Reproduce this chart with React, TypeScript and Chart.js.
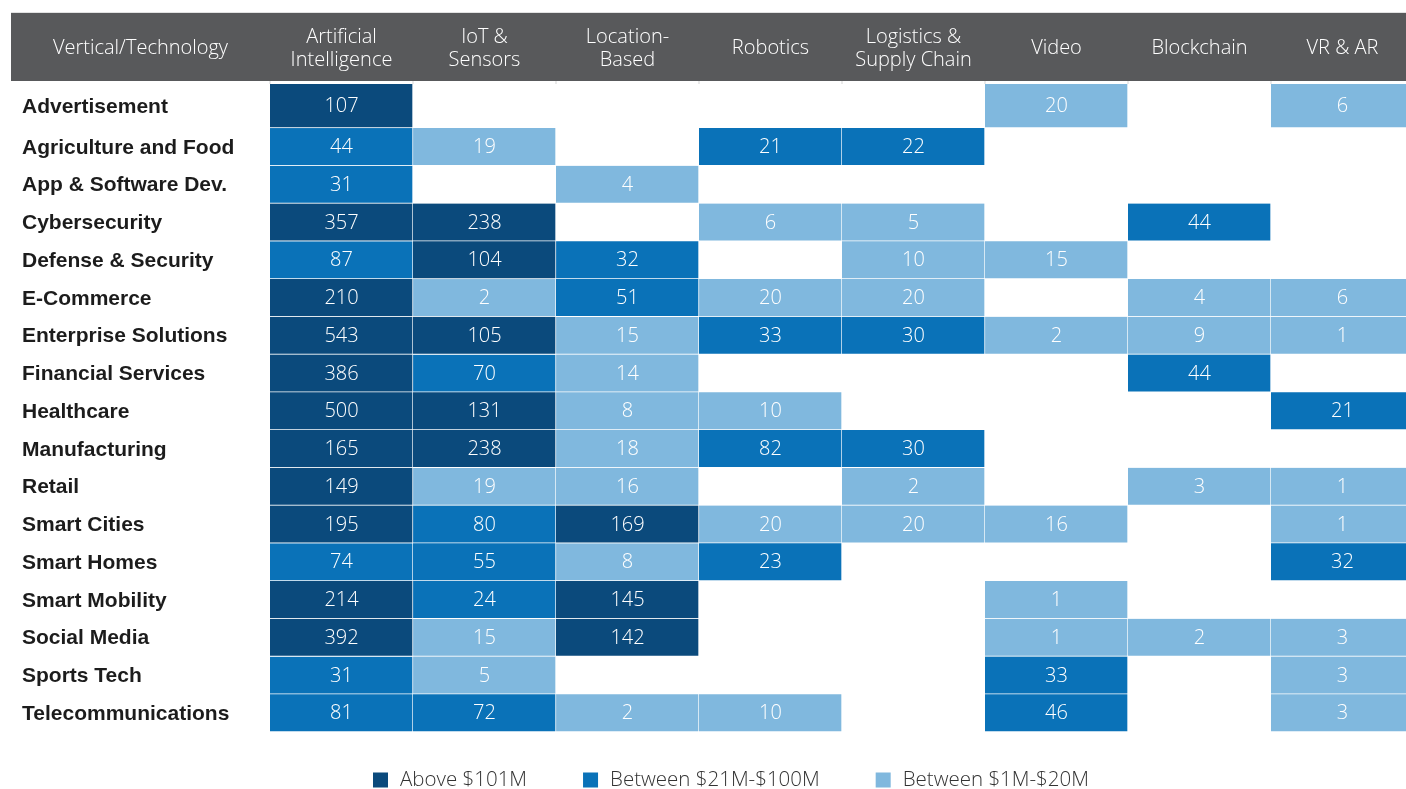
import React, { useEffect, useRef } from "react";
import { Chart, registerables } from "chart.js";

Chart.register(...registerables);

const CORNER_LABEL = "Vertical/Technology";
const COLUMN_LABELS: string[][] = [
  ["Artificial", "Intelligence"],
  ["IoT &", "Sensors"],
  ["Location-", "Based"],
  ["Robotics"],
  ["Logistics &", "Supply Chain"],
  ["Video"],
  ["Blockchain"],
  ["VR & AR"],
];
const ROW_LABELS: string[] = [
  "Advertisement",
  "Agriculture and Food",
  "App & Software Dev.",
  "Cybersecurity",
  "Defense & Security",
  "E-Commerce",
  "Enterprise Solutions",
  "Financial Services",
  "Healthcare",
  "Manufacturing",
  "Retail",
  "Smart Cities",
  "Smart Homes",
  "Smart Mobility",
  "Social Media",
  "Sports Tech",
  "Telecommunications",
];
const VALUES: (number | null)[][] = [
  [107, null, null, null, null, 20, null, 6],
  [44, 19, null, 21, 22, null, null, null],
  [31, null, 4, null, null, null, null, null],
  [357, 238, null, 6, 5, null, 44, null],
  [87, 104, 32, null, 10, 15, null, null],
  [210, 2, 51, 20, 20, null, 4, 6],
  [543, 105, 15, 33, 30, 2, 9, 1],
  [386, 70, 14, null, null, null, 44, null],
  [500, 131, 8, 10, null, null, null, 21],
  [165, 238, 18, 82, 30, null, null, null],
  [149, 19, 16, null, 2, null, 3, 1],
  [195, 80, 169, 20, 20, 16, null, 1],
  [74, 55, 8, 23, null, null, null, 32],
  [214, 24, 145, null, null, 1, null, null],
  [392, 15, 142, null, null, 1, 2, 3],
  [31, 5, null, null, null, 33, null, 3],
  [81, 72, 2, 10, null, 46, null, 3],
];
// funding tier of each cell: A = above $101M, B = $21M-$100M, C = $1M-$20M
const TIERS: (string | null)[][] = [
  ["A", null, null, null, null, "C", null, "C"],
  ["B", "C", null, "B", "B", null, null, null],
  ["B", null, "C", null, null, null, null, null],
  ["A", "A", null, "C", "C", null, "B", null],
  ["B", "A", "B", null, "C", "C", null, null],
  ["A", "C", "B", "C", "C", null, "C", "C"],
  ["A", "A", "C", "B", "B", "C", "C", "C"],
  ["A", "B", "C", null, null, null, "B", null],
  ["A", "A", "C", "C", null, null, null, "B"],
  ["A", "A", "C", "B", "B", null, null, null],
  ["A", "C", "C", null, "C", null, "C", "C"],
  ["A", "B", "A", "C", "C", "C", null, "C"],
  ["B", "B", "C", "B", null, null, null, "B"],
  ["A", "B", "A", null, null, "C", null, null],
  ["A", "C", "A", null, null, "C", "C", "C"],
  ["B", "C", null, null, null, "B", null, "C"],
  ["B", "B", "C", "C", null, "B", null, "C"],
];
const TIER_KEYS = ["A", "B", "C"];
const TIER_LABELS = ["Above $101M", "Between $21M-$100M", "Between $1M-$20M"];
const TIER_COLORS = ["#0b4a7c", "#0a72b8", "#80b8de"];

// layout constants
const W = 1406;
const H = 789;
const COL_W = 143;
const LEFT = 270;
const TOP = 84;
const BOTTOM_PAD = 57;
const FIRST_ROW_EXTRA = 0.166;
const HEADER = { x: 11, y: 13, h: 68 };
const LEGEND_X = 373;
const LIGHT_FONT = "'Open Sans', 'Roboto', sans-serif";
const BOLD_FONT = "'Liberation Sans', Arial, sans-serif";

const rowStart = (r: number) => (r === 0 ? -FIRST_ROW_EXTRA : r);

const overlay = {
  id: "overlay",
  afterDraw(chart: any) {
    const { ctx, scales, chartArea } = chart;
    const xs = scales.x;
    const ys = scales.y;
    ctx.save();
    // header band
    ctx.fillStyle = "#58595b";
    ctx.fillRect(HEADER.x, HEADER.y, chart.width - HEADER.x, HEADER.h);
    ctx.fillStyle = "#e2e2e2";
    ctx.fillRect(HEADER.x, HEADER.y - 1, chart.width - HEADER.x, 1);
    // small separators between header and grid
    ctx.fillStyle = "#d6d6d6";
    for (let i = 0; i < COLUMN_LABELS.length; i++) {
      const px = Math.round(xs.getPixelForValue(i)) - 0.5;
      ctx.fillRect(px, HEADER.y + HEADER.h, 1, chartArea.top - HEADER.y - HEADER.h);
    }
    // header text
    ctx.fillStyle = "#ffffff";
    ctx.font = `300 20px ${LIGHT_FONT}`;
    ctx.textAlign = "center";
    ctx.textBaseline = "middle";
    const hc = HEADER.y + HEADER.h / 2 + 1.5;
    ctx.fillText(CORNER_LABEL, (HEADER.x + chartArea.left) / 2, hc);
    COLUMN_LABELS.forEach((lines, i) => {
      const cx = xs.getPixelForValue(i + 0.5);
      const lh = 23;
      lines.forEach((ln, j) => {
        const cy = hc + (j - (lines.length - 1) / 2) * lh;
        ctx.fillText(ln, cx, cy);
      });
    });
    // row labels
    ctx.fillStyle = "#1c1c1c";
    ctx.font = `bold 21px ${BOLD_FONT}`;
    ctx.textAlign = "left";
    ROW_LABELS.forEach((lab, r) => {
      const cy = (ys.getPixelForValue(rowStart(r)) + ys.getPixelForValue(r + 1)) / 2;
      ctx.fillText(lab, 22, cy + 1);
    });
    // cell values
    ctx.fillStyle = "#ffffff";
    ctx.font = `300 20px ${LIGHT_FONT}`;
    ctx.textAlign = "center";
    chart.data.datasets.forEach((ds: any, di: number) => {
      const meta = chart.getDatasetMeta(di);
      meta.data.forEach((el: any, k: number) => {
        const raw = ds.data[k];
        const { x, y, base } = el.getProps(["x", "y", "base"], true);
        ctx.fillText(String(raw.v), x, (y + base) / 2 + 0.5);
      });
    });
    // legend
    ctx.font = `300 20.5px ${LIGHT_FONT}`;
    const box = 15;
    const gapText = 12;
    const gapItem = 56;
    let lx = LEGEND_X;
    const ly = 780;
    ctx.textAlign = "left";
    TIER_LABELS.forEach((t, i) => {
      ctx.fillStyle = TIER_COLORS[i];
      ctx.fillRect(lx, ly - box / 2, box, box);
      ctx.fillStyle = "#333333";
      ctx.fillText(t, lx + box + gapText, ly + 0.5);
      lx += box + gapText + ctx.measureText(t).width + gapItem;
    });
    ctx.restore();
  },
};

export default function App() {
  const ref = useRef<HTMLCanvasElement | null>(null);
  useEffect(() => {
    if (!ref.current) return;
    const datasets = TIER_KEYS.map((key, t) => {
      const data: any[] = [];
      VALUES.forEach((row, r) => {
        row.forEach((v, c) => {
          if (v !== null && TIERS[r][c] === key) {
            data.push({ x: c + 0.5, y: [rowStart(r), r + 1], v });
          }
        });
      });
      return {
        label: TIER_LABELS[t],
        data,
        backgroundColor: TIER_COLORS[t],
        borderColor: "#ffffff",
        borderWidth: { top: 0, left: 0, right: 1, bottom: 1 },
        borderSkipped: false,
        grouped: false,
        barPercentage: 1,
        categoryPercentage: 1,
      };
    });
    const chart = new Chart(ref.current, {
      type: "bar",
      data: { datasets } as any,
      options: {
        animation: false,
        responsive: true,
        maintainAspectRatio: false,
        events: [],
        layout: { padding: { left: LEFT, top: TOP, right: 0, bottom: BOTTOM_PAD } },
        plugins: { legend: { display: false }, tooltip: { enabled: false } },
        scales: {
          x: {
            type: "linear",
            display: false,
            offset: false,
            min: 0,
            max: (W - LEFT) / COL_W,
            afterBuildTicks: (scale: any) => {
              scale.ticks = COLUMN_LABELS.map((_, i) => ({ value: i + 0.5 }));
            },
          },
          y: {
            type: "linear",
            display: false,
            reverse: true,
            offset: false,
            min: -FIRST_ROW_EXTRA,
            max: ROW_LABELS.length,
          },
        },
      } as any,
      plugins: [overlay],
    });
    return () => chart.destroy();
  }, []);
  return (
    <div style={{ position: "absolute", left: 0, top: 0, width: W, height: H, background: "#fff" }}>
      <canvas ref={ref} />
    </div>
  );
}
